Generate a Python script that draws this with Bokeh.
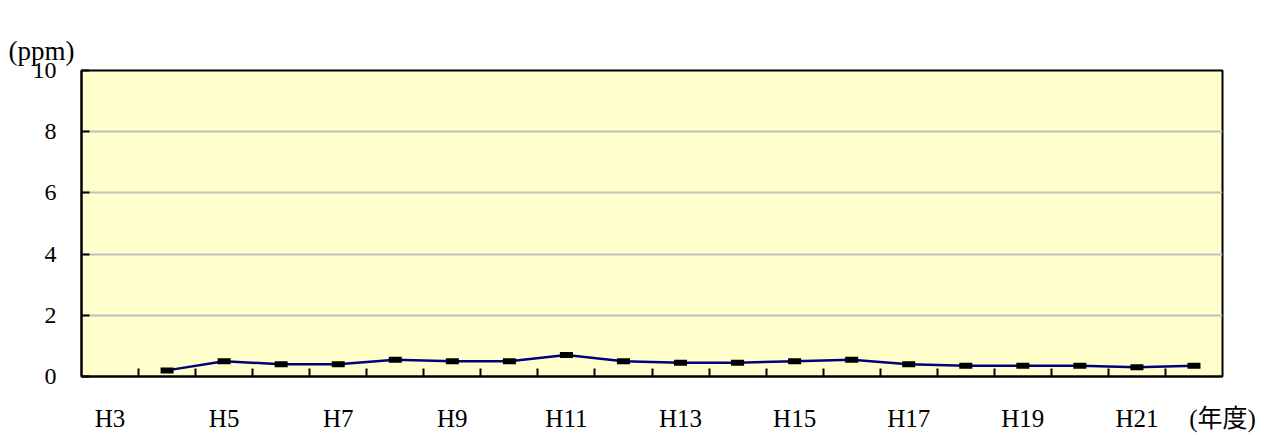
from bokeh.plotting import figure
from bokeh.models import FixedTicker, Range1d, ColumnDataSource
from bokeh.embed import file_html
from bokeh.resources import INLINE

# ---- data ----
years = ["H3", "H4", "H5", "H6", "H7", "H8", "H9", "H10", "H11", "H12",
         "H13", "H14", "H15", "H16", "H17", "H18", "H19", "H20", "H21", "H22"]
values = [None, 0.2, 0.5, 0.4, 0.4, 0.55, 0.5, 0.5, 0.7, 0.5,
          0.45, 0.45, 0.5, 0.55, 0.4, 0.35, 0.35, 0.35, 0.3, 0.35]
y_ticks = [0, 2, 4, 6, 8, 10]
y_unit = "(ppm)"
x_unit = "(年度)"

SERIF = "Liberation Serif"

xs = [i + 0.5 for i, v in enumerate(values) if v is not None]
ys = [v for v in values if v is not None]
src = ColumnDataSource(dict(x=xs, y=ys))

W, H = 1288, 435
p = figure(width=W, height=H, output_backend="svg", toolbar_location=None,
           x_range=Range1d(0, len(years)), y_range=Range1d(0, 10),
           min_border_left=81, min_border_right=66, min_border_top=70, min_border_bottom=59)
p.background_fill_color = "#FFFFCC"
p.border_fill_color = "white"
p.outline_line_color = "black"
p.outline_line_width = 2

# y-unit as a title above the frame, shifted to the page's left edge
p.title.text = y_unit
p.title.align = "left"
p.title.offset = -73
p.title.text_font = SERIF
p.title.text_font_size = "27px"
p.title.text_font_style = "normal"
p.title.text_color = "black"

# y axis
p.yaxis.ticker = FixedTicker(ticks=y_ticks)
p.yaxis.major_tick_in = 8
p.yaxis.major_tick_out = 0
p.yaxis.minor_tick_line_color = None
p.yaxis.axis_line_width = 2
p.yaxis.major_tick_line_width = 2
p.yaxis.major_label_text_font = SERIF
p.yaxis.major_label_text_font_size = "24px"
p.yaxis.major_label_text_color = "black"
p.yaxis.major_label_standoff = 25

# x axis: labels at odd-year centers, ticks at category boundaries,
# unit label at the right end of the axis
n = len(years)
label_pos = [i + 0.5 for i in range(0, n, 2)]
p.xaxis.ticker = FixedTicker(ticks=label_pos + [n], minor_ticks=list(range(1, n)))
overrides = {i + 0.5: years[i] for i in range(0, n, 2)}
overrides[n] = x_unit
p.xaxis.major_label_overrides = overrides
p.xaxis.major_tick_line_color = None
p.xaxis.minor_tick_in = 8
p.xaxis.minor_tick_out = 0
p.xaxis.minor_tick_line_width = 2
p.xaxis.minor_tick_line_color = "black"
p.xaxis.axis_line_width = 2
p.xaxis.major_label_text_font = SERIF + ", Noto Sans CJK JP"
p.xaxis.major_label_text_font_size = "25px"
p.xaxis.major_label_text_color = "black"
p.xaxis.major_label_standoff = 22

p.xgrid.grid_line_color = None
p.ygrid.grid_line_color = "#C0C0C0"
p.ygrid.grid_line_width = 2

p.line("x", "y", source=src, line_color="#000080", line_width=2.5)
p.rect("x", "y", source=src, width=13, height=6, width_units="screen", height_units="screen",
       fill_color="black", line_color=None)

open("out.html", "w").write(file_html(p, INLINE))
